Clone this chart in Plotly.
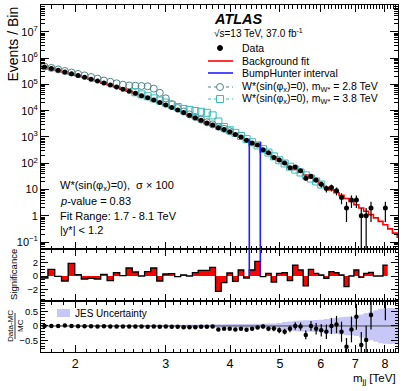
import numpy as np
import plotly.graph_objects as go
from plotly.subplots import make_subplots

# Binning (TeV) and per-bin values
edges = [1.717, 1.771, 1.826, 1.882, 1.939, 1.997, 2.056, 2.117, 2.179, 2.243,
         2.308, 2.374, 2.442, 2.512, 2.583, 2.655, 2.729, 2.805, 2.882, 2.961,
         3.041, 3.123, 3.207, 3.293, 3.380, 3.469, 3.560, 3.653, 3.748, 3.845,
         3.944, 4.045, 4.148, 4.253, 4.360, 4.469, 4.580, 4.693, 4.808, 4.926,
         5.046, 5.168, 5.292, 5.419, 5.548, 5.679, 5.812, 5.947, 6.085, 6.225,
         6.368, 6.513, 6.660, 6.810, 6.962, 7.117, 7.274, 7.434, 7.597, 7.762,
         7.929, 8.099, 8.272, 8.449, 8.627]

fit = [4.57e5, 3.98e5, 3.47e5, 2.95e5, 2.51e5, 2.19e5, 1.86e5, 1.58e5, 1.35e5, 1.12e5,
       9.55e4, 7.94e4, 6.61e4, 5.50e4, 4.57e4, 3.72e4, 3.09e4, 2.51e4, 2.04e4, 1.66e4,
       1.32e4, 1.07e4, 8510, 6760, 5370, 4270, 3390, 2820, 2350, 1960,
       1580, 1260, 975, 757, 575, 446, 330, 244, 178, 127,
       98.4, 74.1, 58.9, 45.7, 35.5, 26.9, 20.9, 15.8, 12.3, 9.6,
       7.6, 6.0, 4.6, 3.5, 2.65, 2.0, 1.5, 1.12, 0.84, 0.62,
       0.46, 0.32, 0.22, 0.155]

data = [456800, 398630, 346970, 294590, 251950, 219090, 185810, 157860, 134830, 112080,
        95280, 79540, 66110, 55280, 45830, 37200, 31010, 25290, 20290, 16640,
        13240, 10690, 8524, 6760, 5407, 4325, 3439, 2889, 2238, 1916,
        1598, 1232, 1003, 749, 597, 492, 328, 250, 166, 132,
        103, 68, 72, 52, 27, 32, 23, 16, 11, 12,
        9, 5, 2, 4, 4, 1, 1, 2, 0, 0,
        2]

signif = [-0.3, 1.0, -0.05, -0.75, 1.9, 0.2, -0.45, -0.35, -0.45, 0.25,
          -0.7, 0.5, 0.05, 1.2, 0.6, 0.0, 0.65, 1.2, -0.75, 0.3,
          0.35, -0.1, 0.15, 0.0, 0.5, 0.85, 0.85, 1.3, -2.3, -1.0,
          0.45, -0.8, 0.9, -0.3, 0.9, 2.2, -0.1, 0.4, -0.9, 0.4,
          0.5, -0.7, 1.65, 0.9, -1.5, 1.0, 0.4, 0.15, -0.35, 0.65,
          0.5, 0.15, -1.6, 0.0, 0.9, -0.2, 0.4, 0.55, 0.0, 0.0,
          1.65]

w28_first = 0   # first bin index of the 2.8 TeV signal curve
w28 = [4.79e5, 4.22e5, 3.72e5, 3.24e5, 2.82e5, 2.51e5, 2.19e5, 1.91e5, 1.66e5, 1.41e5,
       1.26e5, 1.10e5, 9.77e4, 9.12e4, 8.91e4, 8.71e4, 8.51e4, 6.92e4, 4.79e4, 2.95e4,
       1.78e4, 1.26e4, 9330, 7240, 5750, 4570, 3630, 3020, 2460, 2050,
       1660]

w38_first = 14  # first bin index of the 3.8 TeV signal curve
w38 = [5.01e4, 4.17e4, 3.55e4, 2.95e4, 2.45e4, 2.04e4, 1.66e4, 1.38e4, 1.17e4, 1.07e4,
       9770, 9120, 8320, 6630, 3900, 2400, 1810, 1440, 1094, 830,
       630, 478, 345, 255, 183, 130, 98.4, 74.1, 57.5, 44.7,
       34.7, 26.3, 20.4, 15.5]

ratio = [0.0, 0.0, 0.0, 0.02, 0.0, -0.01, -0.01, -0.01, -0.02, -0.01,
         -0.02, -0.02, -0.02, -0.02, -0.02, -0.02, -0.03, -0.02, -0.03, -0.02,
         -0.03, -0.03, -0.04, -0.04, -0.04, -0.03, -0.03, -0.02, -0.12, -0.10,
         -0.10, -0.12, -0.10, -0.13, -0.10, -0.05, -0.02, -0.10, -0.09, -0.15,
         -0.20, -0.10, 0.0, -0.02, -0.31, 0.0, -0.10, -0.15, -0.20, 0.0,
         0.05, -0.2, -0.72, -0.12, 0.32, -0.66, -0.49, 0.38, None, None,
         1.1]

ratio_err = [0.005, 0.005, 0.005, 0.005, 0.005, 0.005, 0.005, 0.006, 0.006, 0.006,
             0.007, 0.007, 0.008, 0.008, 0.009, 0.01, 0.01, 0.011, 0.012, 0.013,
             0.014, 0.015, 0.017, 0.019, 0.021, 0.023, 0.026, 0.029, 0.032, 0.036,
             0.04, 0.045, 0.05, 0.055, 0.06, 0.065, 0.07, 0.08, 0.09, 0.1,
             0.1, 0.12, 0.13, 0.14, 0.15, 0.17, 0.2, 0.22, 0.25, 0.28,
             0.3, 0.35, 0.3, 0.45, 0.45, 0.45, 0.5, 0.5, None, None,
             0.9]

jes = [0.02, 0.02, 0.02, 0.02, 0.02, 0.025, 0.025, 0.025, 0.025, 0.03,
       0.03, 0.03, 0.03, 0.03, 0.035, 0.035, 0.035, 0.04, 0.04, 0.04,
       0.045, 0.045, 0.045, 0.05, 0.05, 0.05, 0.055, 0.055, 0.06, 0.06,
       0.065, 0.065, 0.07, 0.07, 0.075, 0.08, 0.08, 0.085, 0.09, 0.1,
       0.14, 0.16, 0.18, 0.19, 0.2, 0.2, 0.21, 0.22, 0.24, 0.26,
       0.28, 0.3, 0.32, 0.32, 0.35, 0.4, 0.45, 0.5, 0.55, 0.6,
       0.62, 0.63, 0.62, 0.6]

bh_lo, bh_hi = 4.360, 4.580   # BumpHunter interval (TeV)
bh_top = [830, 660]           # heights the interval lines reach in the main panel

main_yticks = [0.1, 1, 10, 1e2, 1e3, 1e4, 1e5, 1e6, 1e7]
main_ytext = ["10<sup>−1</sup>", "1", "10", "10<sup>2</sup>", "10<sup>3</sup>",
              "10<sup>4</sup>", "10<sup>5</sup>", "10<sup>6</sup>", "10<sup>7</sup>"]
x_ticks = [2, 3, 4, 5, 6, 7, 8]

# ---- geometry helpers (pixel -> paper) ----
W, H = 407, 391
L, R, T, B = 41, 9, 5, 39
PW, PH = W - L - R, H - T - B


def px(x):
    return (x - L) / PW


def py(y):
    return (H - B - y) / PH


FONT = "Liberation Sans, Arial, Helvetica, sans-serif"
C28 = "#4f8585"
C38 = "#3cbaba"

nb = len(data)
centers = [(edges[i] + edges[i + 1]) / 2 for i in range(len(edges) - 1)]
data_x = [centers[i] for i in range(nb) if data[i] > 0]
data_y = [data[i] for i in range(nb) if data[i] > 0]
err_up = [np.sqrt(v) for v in data_y]
err_dn = [min(np.sqrt(v), v * 0.999) for v in data_y]

fig = make_subplots(rows=3, cols=1, shared_xaxes=True, vertical_spacing=0)

# main panel
fig.add_trace(go.Scatter(x=edges, y=fit + [fit[-1]], mode='lines',
                         line=dict(color='#ff0000', width=1.6, shape='hv')), row=1, col=1)
fig.add_trace(go.Scatter(x=centers[w28_first:w28_first + len(w28)], y=w28, mode='markers',
                         marker=dict(symbol='circle-open', size=7, color=C28, line=dict(width=1))),
              row=1, col=1)
fig.add_trace(go.Scatter(x=centers[w38_first:w38_first + len(w38)], y=w38, mode='markers',
                         marker=dict(symbol='square-open', size=7, color=C38, line=dict(width=1))),
              row=1, col=1)
fig.add_trace(go.Scatter(x=data_x, y=data_y, mode='markers',
                         marker=dict(color='black', size=5),
                         error_y=dict(type='data', symmetric=False, array=err_up, arrayminus=err_dn,
                                      color='black', thickness=1.2, width=0)), row=1, col=1)
fig.add_trace(go.Scatter(x=[bh_lo, bh_lo, None, bh_hi, bh_hi],
                         y=[1e-3, bh_top[0], None, 1e-3, bh_top[1]], mode='lines',
                         line=dict(color='#2020ff', width=1.6)), row=1, col=1)

# significance panel
fig.add_trace(go.Scatter(x=edges[:nb + 1], y=signif + [signif[-1]], mode='lines',
                         line=dict(color='black', width=1.3, shape='hv'),
                         fill='tozeroy', fillcolor='#ff0000'), row=2, col=1)
fig.add_trace(go.Scatter(x=[bh_lo, bh_lo, None, bh_hi, bh_hi], y=[0, 10, None, 0, 10], mode='lines',
                         line=dict(color='#2020ff', width=1.6)), row=2, col=1)

# ratio panel
band_col = 'rgb(200,200,248)'
fig.add_trace(go.Scatter(x=edges, y=jes + [jes[-1]], mode='lines',
                         line=dict(width=0, shape='hv', color=band_col)), row=3, col=1)
fig.add_trace(go.Scatter(x=edges, y=[-v for v in jes + [jes[-1]]], mode='lines',
                         line=dict(width=0, shape='hv', color=band_col),
                         fill='tonexty', fillcolor=band_col), row=3, col=1)
fig.add_trace(go.Scatter(x=[edges[0], edges[-1]], y=[0, 0], mode='lines',
                         line=dict(color='#444444', width=1)), row=3, col=1)
fig.add_trace(go.Scatter(x=centers[:nb], y=ratio, mode='markers',
                         marker=dict(color='black', size=4.5),
                         error_y=dict(type='data', array=ratio_err, color='black', thickness=1.2, width=0)),
              row=3, col=1)

# axes
x_minor = [round(1.7 + 0.1 * i, 1) for i in range(0, 69) if abs(round(1.7 + 0.1 * i, 1) % 1) > 1e-6]
xr = [np.log10(1.717), np.log10(8.48)]
for r in (1, 2, 3):
    fig.update_xaxes(type='log', range=xr, showline=True, linecolor='black', linewidth=1,
                     mirror='allticks', ticks='inside', ticklen=7, tickcolor='black',
                     tickmode='array', tickvals=x_ticks, ticktext=[str(v) for v in x_ticks],
                     showgrid=False, zeroline=False,
                     minor=dict(ticks='inside', ticklen=3.5, tickcolor='black', tickmode='array',
                                tickvals=x_minor, showgrid=False),
                     tickfont=dict(family=FONT, size=12.5, color='black'), row=r, col=1)

y_minor = [k * 10.0 ** e for e in range(-2, 9) for k in range(2, 10)]
fig.update_yaxes(type='log', range=[-1.26, 8.02], domain=[py(249), 1],
                 showline=True, linecolor='black', linewidth=1, mirror='allticks',
                 ticks='inside', ticklen=8, tickcolor='black', tickmode='array',
                 tickvals=main_yticks, ticktext=main_ytext, showgrid=False, zeroline=False,
                 minor=dict(ticks='inside', ticklen=4, tickcolor='black', tickmode='array',
                            tickvals=y_minor, showgrid=False),
                 tickfont=dict(family=FONT, size=11, color='black'), row=1, col=1)
fig.update_yaxes(range=[-3.76, 4.06], domain=[py(301), py(249)],
                 showline=True, linecolor='black', linewidth=1, mirror='allticks',
                 ticks='inside', ticklen=7, tickcolor='black', tickmode='array',
                 tickvals=[-2, 0, 2], showgrid=False, zeroline=False,
                 minor=dict(ticks='inside', ticklen=3.5, tickcolor='black', tickmode='array',
                            tickvals=[-3.5, -3, -2.5, -1.5, -1, -0.5, 0.5, 1, 1.5, 2.5, 3, 3.5, 4],
                            showgrid=False),
                 tickfont=dict(family=FONT, size=9.5, color='black'), row=2, col=1)
fig.update_yaxes(range=[-0.906, 0.87], domain=[0, py(301)],
                 showline=True, linecolor='black', linewidth=1, mirror='allticks',
                 ticks='inside', ticklen=7, tickcolor='black', tickmode='array',
                 tickvals=[-0.5, 0, 0.5], ticktext=['−0.5', '0', '0.5'], showgrid=False, zeroline=False,
                 minor=dict(ticks='inside', ticklen=3.5, tickcolor='black', tickmode='array',
                            tickvals=[-0.9, -0.8, -0.7, -0.6, -0.4, -0.3, -0.2, -0.1,
                                      0.1, 0.2, 0.3, 0.4, 0.6, 0.7, 0.8], showgrid=False),
                 tickfont=dict(family=FONT, size=9.5, color='black'), row=3, col=1)

# text, legend
ann = []


def text(x, y, s, size=10.5, xa='left', ya='middle', angle=0):
    ann.append(dict(x=px(x), y=py(y), xref='paper', yref='paper', text=s, showarrow=False,
                    xanchor=xa, yanchor=ya, textangle=angle,
                    font=dict(family=FONT, size=size, color='black')))


text(212, 19, "<b><i>ATLAS</i></b>", size=14.5)
text(212, 33, "√s=13 TeV, 37.0 fb<sup>-1</sup>", size=10)
leg_y = [48, 61, 73, 87, 99]
leg_txt = ["Data", "Background fit", "BumpHunter interval",
           "W*(sin(φ<sub>x</sub>)=0), m<sub>W*</sub> = 2.8 TeV",
           "W*(sin(φ<sub>x</sub>)=0), m<sub>W*</sub> = 3.8 TeV"]
for yy, s in zip(leg_y, leg_txt):
    text(240, yy, s, size=10.5)

text(58, 186, "W*(sin(φ<sub>x</sub>)=0),  σ × 100", size=11)
text(58, 201, "<i>p</i>-value = 0.83", size=11)
text(58, 216, "Fit Range: 1.7 - 8.1 TeV", size=11)
text(58, 230, "|y*| < 1.2", size=11)
text(73, 313, "JES Uncertainty", size=10)

text(12, 5, "Events / Bin", size=14, xa='center', ya='top', angle=-90)
text(13, 275, "Significance", size=9.5, xa='center', angle=-90)
text(10, 326, "Data-MC", size=8, xa='center', angle=-90)
text(20, 326, "MC", size=8, xa='center', angle=-90)
text(398, 379, "m<sub>jj</sub> [TeV]", size=11.5, xa='right')

shapes = []


def pline(x0, y0, x1, y1, color, width=1.5, dash='solid'):
    shapes.append(dict(type='line', xref='paper', yref='paper', x0=px(x0), y0=py(y0),
                       x1=px(x1), y1=py(y1), line=dict(color=color, width=width, dash=dash)))


shapes.append(dict(type='circle', xref='paper', yref='paper', x0=px(217.5), x1=px(222.5),
                   y0=py(50.5), y1=py(45.5), fillcolor='black', line=dict(color='black', width=1)))
pline(208, 61, 233, 61, '#ff0000', 1.6)
pline(208, 73, 233, 73, '#2020ff', 1.6)
pline(208, 87, 233, 87, C28, 1.2, 'dot')
pline(208, 99, 233, 99, C38, 1.2, 'dot')
shapes.append(dict(type='circle', xref='paper', yref='paper', x0=px(216.5), x1=px(223.5),
                   y0=py(90.5), y1=py(83.5), fillcolor='white', line=dict(color=C28, width=1)))
shapes.append(dict(type='rect', xref='paper', yref='paper', x0=px(216.5), x1=px(223.5),
                   y0=py(102.5), y1=py(95.5), fillcolor='white', line=dict(color=C38, width=1)))
shapes.append(dict(type='rect', xref='paper', yref='paper', x0=px(57), x1=px(70),
                   y0=py(317), y1=py(309), fillcolor=band_col, line=dict(width=0)))
pline(15, 313, 15, 339, 'black', 0.8)

fig.update_layout(width=W, height=H, margin=dict(l=L, r=R, t=T, b=B),
                  paper_bgcolor='white', plot_bgcolor='white', showlegend=False,
                  annotations=ann, shapes=shapes, font=dict(family=FONT))

# the page's default 8px body margin would shift the fixed-size figure
fig.write_html("out.html", config={'displayModeBar': False},
               post_script="document.body.style.margin='0px';")
